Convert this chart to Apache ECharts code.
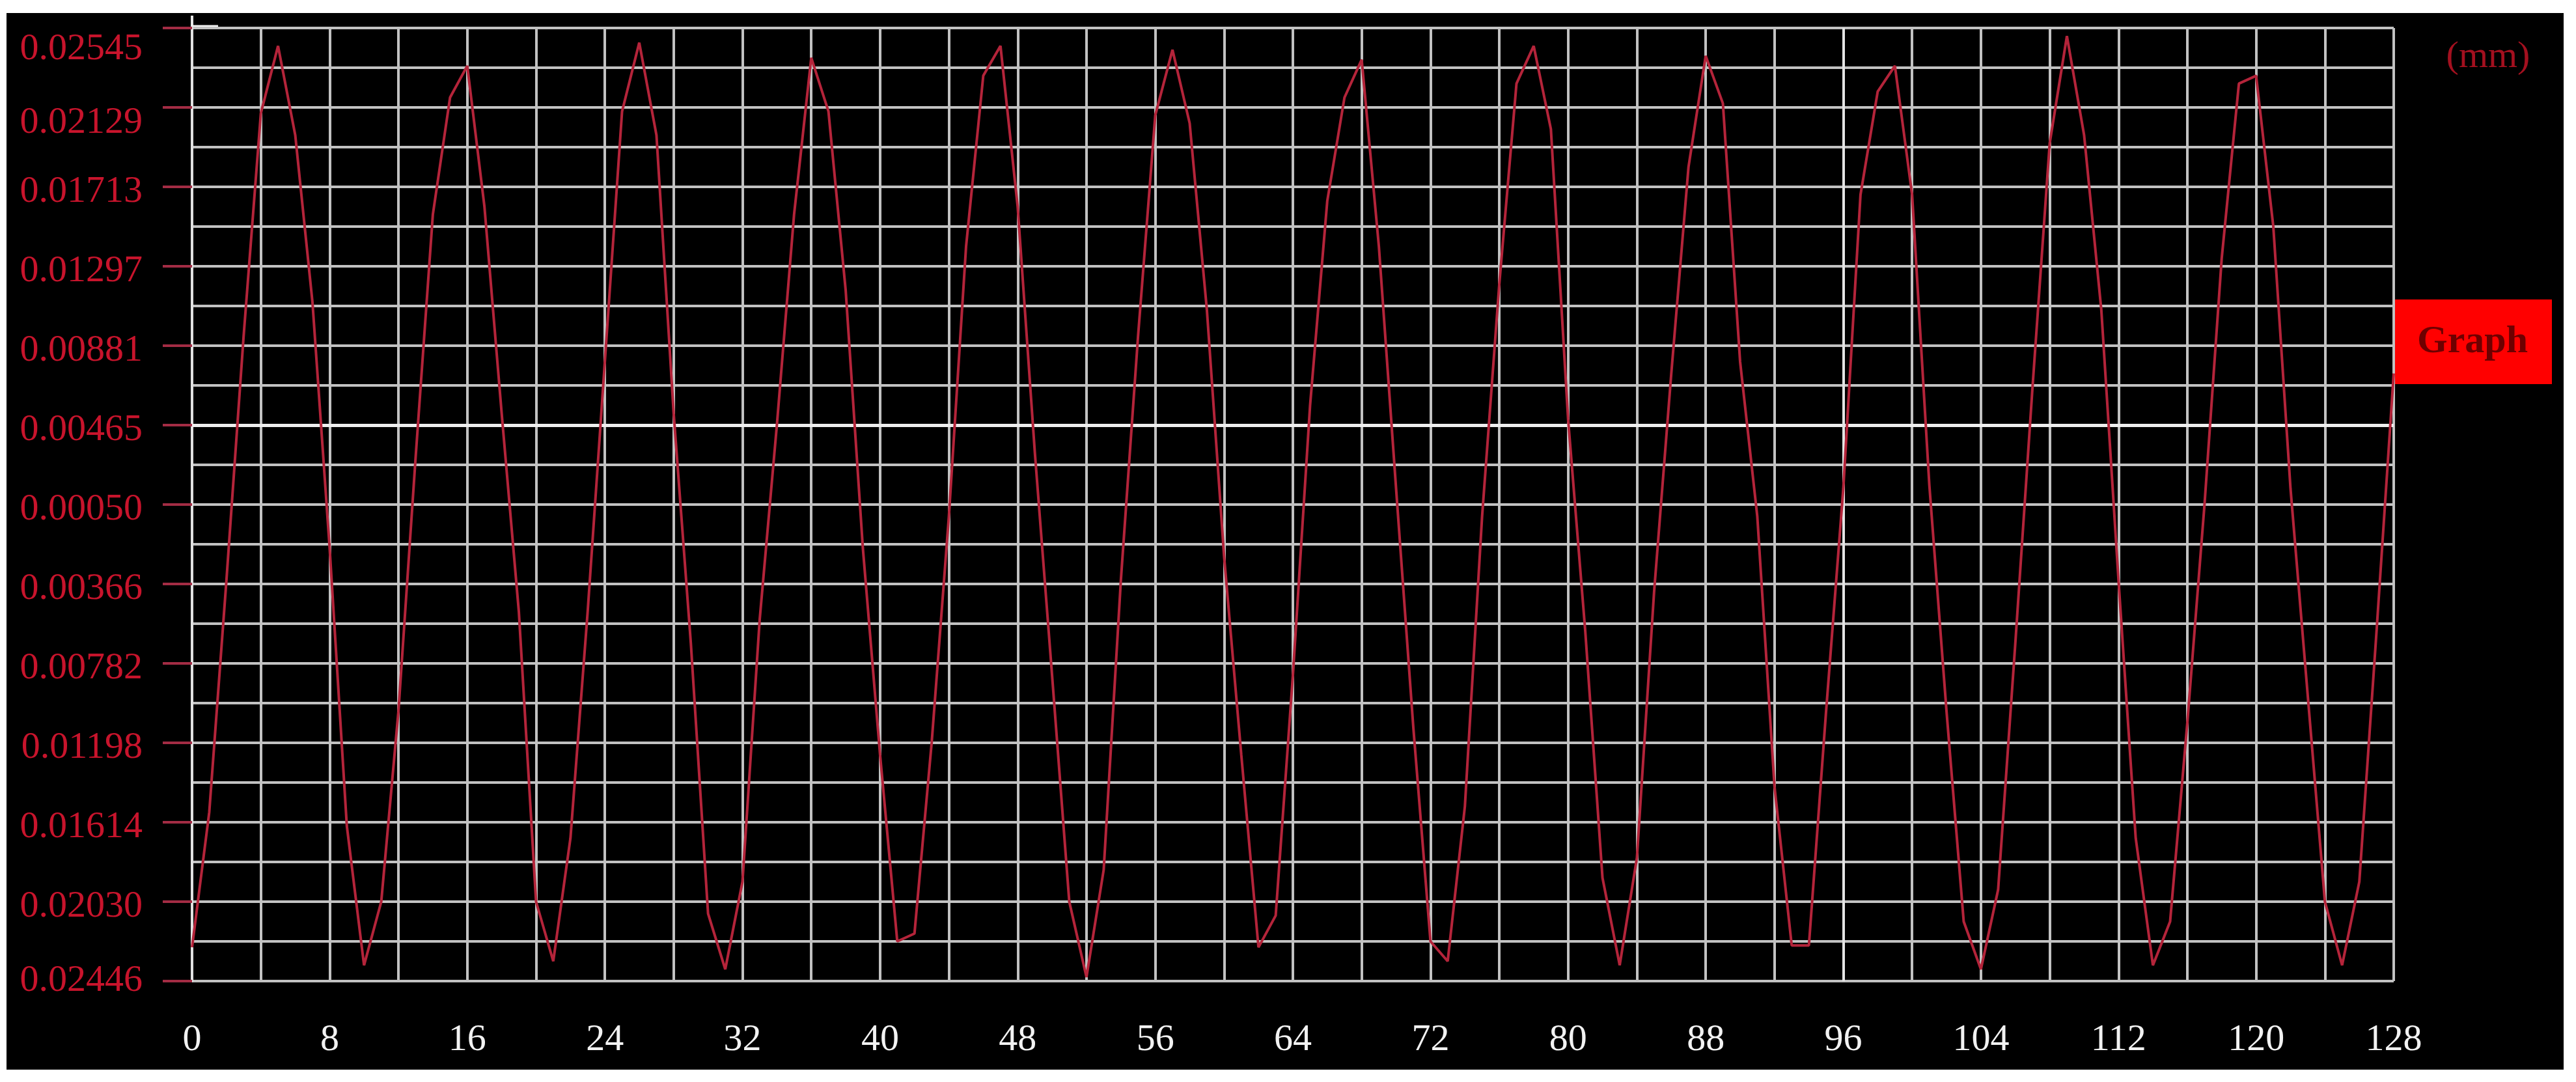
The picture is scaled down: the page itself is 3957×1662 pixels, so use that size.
<!DOCTYPE html>
<html>
<head>
<meta charset="utf-8">
<title>Graph</title>
<script src="https://cdn.jsdelivr.net/npm/echarts@6/dist/echarts.min.js"></script>
<style>
  html, body { margin: 0; padding: 0; background: #ffffff; }
  #chart { position: absolute; left: 10px; top: 20px; width: 3928px; height: 1623px; background: #000; }
</style>
</head>
<body>
<div id="chart"></div>
<script>
// y axis range and its printed labels (top to bottom, minus signs dropped as in the original)
const yMax = 0.02545;
const yMin = -0.02446;
const yTickLabels = ['0.02545', '0.02129', '0.01713', '0.01297', '0.00881', '0.00465', '0.00050',
                     '0.00366', '0.00782', '0.01198', '0.01614', '0.02030', '0.02446'];
const xMax = 128;
const xTickLabels = ['0', '8', '16', '24', '32', '40', '48', '56', '64', '72', '80', '88', '96',
                     '104', '112', '120', '128'];

const displacement = [
  -0.02269, -0.01562, -0.00346, 0.00933, 0.02098, 0.02451, 0.01984, 0.01110, -0.00179, -0.01635,
  -0.02363, -0.02030, -0.01032, 0.00299, 0.01568, 0.02181, 0.02347, 0.01609, 0.00528, -0.00512,
  -0.02030, -0.02342, -0.01697, -0.00512, 0.00798, 0.02108, 0.02468, 0.01984, 0.00528, -0.00678,
  -0.02093, -0.02384, -0.01926, -0.00554, 0.00465, 0.01568, 0.02389, 0.02108, 0.01172, -0.00179,
  -0.01261, -0.02238, -0.02197, -0.01198, -0.00013, 0.01401, 0.02295, 0.02451, 0.01609, 0.00320,
  -0.00845, -0.02030, -0.02425, -0.01864, -0.00346, 0.00933, 0.02088, 0.02431, 0.02046, 0.01069,
  -0.00221, -0.01261, -0.02269, -0.02103, -0.00845, 0.00569, 0.01640, 0.02181, 0.02379, 0.01401,
  0.00133, -0.01115, -0.02238, -0.02342, -0.01531, -0.00013, 0.01204, 0.02254, 0.02451, 0.02015,
  0.00497, -0.00616, -0.01905, -0.02363, -0.01801, -0.00408, 0.00736, 0.01817, 0.02399, 0.02150,
  0.00798, -0.00013, -0.01427, -0.02259, -0.02259, -0.01032, 0.00133, 0.01672, 0.02212, 0.02347,
  0.01672, 0.00154, -0.01032, -0.02134, -0.02384, -0.01968, -0.00678, 0.00663, 0.01942, 0.02503,
  0.01984, 0.01069, -0.00346, -0.01697, -0.02363, -0.02134, -0.01094, 0.00050, 0.01339, 0.02254,
  0.02295, 0.01505, 0.00133, -0.00949, -0.02030, -0.02363, -0.01926, -0.00616, 0.00736
];

// highlighted reference lines
const baseLineValue = 0.00465;
const markX = 96;

const chart = echarts.init(document.getElementById('chart'), null, { renderer: 'canvas' });

const serif = '"Liberation Serif", "DejaVu Serif", serif';
const gridColor = '#c2c2c2';

const option = {
  backgroundColor: '#000000',
  animation: false,
  grid: { left: 285, right: 261, top: 23, bottom: 136 },
  xAxis: {
    type: 'value',
    min: 0,
    max: xMax,
    interval: 4,
    axisLine: { show: false, onZero: false },
    axisTick: { show: false },
    splitLine: { show: true, lineStyle: { color: gridColor, width: 4 } },
    axisLabel: {
      margin: 62,
      color: '#f2f2f2',
      fontFamily: serif,
      fontSize: 58,
      formatter: function (v) {
        return v % 8 === 0 ? xTickLabels[v / 8] : '';
      }
    }
  },
  yAxis: [
    {
      // grid lines every half label step
      type: 'value',
      min: yMin,
      max: yMax,
      interval: (yMax - yMin) / 24,
      axisLine: { show: true, onZero: false, lineStyle: { color: '#e0e0e0', width: 4 } },
      axisTick: { show: false },
      axisLabel: { show: false },
      splitLine: { show: true, lineStyle: { color: gridColor, width: 4 } }
    },
    {
      // labels and red ticks
      type: 'value',
      position: 'left',
      min: yMin,
      max: yMax,
      interval: (yMax - yMin) / 12,
      axisLine: { show: false, onZero: false },
      splitLine: { show: false },
      axisTick: { show: true, length: 45, lineStyle: { color: '#a32c44', width: 4 } },
      axisLabel: {
        margin: 76,
        color: '#c8142c',
        fontFamily: serif,
        fontSize: 58,
        formatter: function (v, i) {
          const label = yTickLabels[12 - i];
          if (label === undefined) return '';
          if (i === 12) return '{a|' + label + '}';
          if (i === 11) return '{b|' + label + '}';
          if (i === 0) return label;
          return '{c|' + label + '}';
        },
        rich: {
          a: { padding: [66, 0, 0, 0] },
          b: { padding: [48, 0, 0, 0] },
          c: { padding: [16, 0, 0, 0] }
        }
      }
    }
  ],
  series: [{
    type: 'line',
    yAxisIndex: 0,
    data: displacement.map((v, i) => [i, v]),
    symbol: 'none',
    smooth: false,
    lineStyle: { color: '#b4243a', width: 4 },
    z: 5,
    markLine: {
      silent: true,
      symbol: 'none',
      label: { show: false },
      lineStyle: { color: '#eeeeee', width: 5, type: 'solid' },
      data: [
        [{ coord: [0, baseLineValue] }, { coord: [xMax, baseLineValue] }],
        [{ coord: [markX, yMin], lineStyle: { color: '#e4e4e4', width: 4 } }, { coord: [markX, yMax] }]
      ],
      z: 3
    }
  }],
  graphic: [
    {
      type: 'line',
      shape: { x1: 285, y1: 4, x2: 285, y2: 23 },
      style: { stroke: '#e6e6e6', lineWidth: 4 }
    },
    {
      type: 'line',
      shape: { x1: 285, y1: 21, x2: 325, y2: 21 },
      style: { stroke: '#f2f2f2', lineWidth: 5 }
    },
    {
      type: 'text',
      x: 3812,
      y: 68,
      style: {
        text: '(mm)',
        fill: '#a3101f',
        font: '58px ' + serif,
        textAlign: 'center',
        textVerticalAlign: 'middle'
      }
    },
    {
      type: 'rect',
      shape: { x: 3667, y: 440, width: 243, height: 130 },
      style: { fill: '#ff0000' }
    },
    {
      type: 'text',
      x: 3788,
      y: 505,
      style: {
        text: 'Graph',
        fill: '#6e0000',
        font: 'bold 60px ' + serif,
        textAlign: 'center',
        textVerticalAlign: 'middle'
      }
    }
  ]
};

chart.setOption(option);
</script>
</body>
</html>
